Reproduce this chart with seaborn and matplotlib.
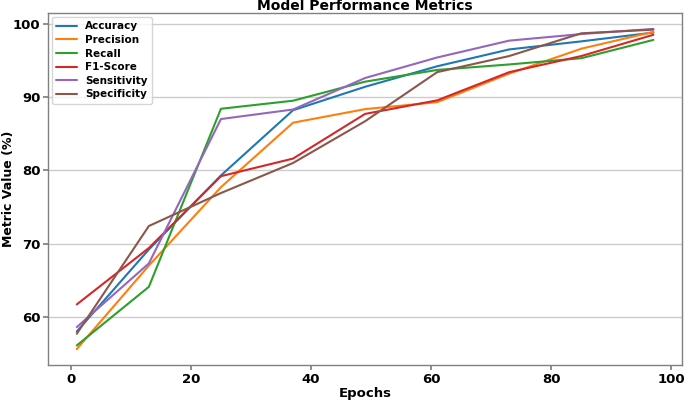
import matplotlib
matplotlib.use("Agg")
import matplotlib.pyplot as plt
import seaborn as sns
import pandas as pd

epochs = [1, 13, 25, 37, 49, 61, 73, 85, 97]
accuracy = [58.0, 69.2, 79.3, 88.2, 91.4, 94.2, 96.5, 97.6, 98.8]
precision = [55.6, 67.0, 77.7, 86.5, 88.35, 89.3, 93.2, 96.6, 98.9]
recall = [56.1, 64.1, 88.4, 89.5, 92.1, 93.7, 94.45, 95.3, 97.8]
f1_score = [61.7, 69.4, 79.2, 81.6, 87.7, 89.55, 93.4, 95.6, 98.5]
sensitivity = [58.6, 67.3, 87.0, 88.3, 92.6, 95.4, 97.7, 98.6, 99.3]
specificity = [57.7, 72.4, 76.9, 81.0, 86.7, 93.4, 95.6, 98.7, 99.2]

metrics = {
    "Accuracy": accuracy,
    "Precision": precision,
    "Recall": recall,
    "F1-Score": f1_score,
    "Sensitivity": sensitivity,
    "Specificity": specificity,
}

rows = []
for name, vals in metrics.items():
    for e, v in zip(epochs, vals):
        rows.append({"Epochs": e, "Value": v, "Metric": name})
df = pd.DataFrame(rows)

sns.set_theme(style="ticks")
plt.rcParams["font.family"] = ["DejaVu Sans"]
plt.rcParams["text.color"] = "black"
plt.rcParams["axes.labelcolor"] = "black"
plt.rcParams["xtick.color"] = "black"
plt.rcParams["ytick.color"] = "black"

fig = plt.figure(figsize=(6.85, 4.03), dpi=100)
ax = fig.add_axes([0.070, 0.094, 0.926, 0.874])

sns.lineplot(data=df, x="Epochs", y="Value", hue="Metric", palette="tab10",
             linewidth=1.5, ax=ax)

ax.yaxis.grid(True, color="#cccccc", linewidth=1.0)
ax.set_axisbelow(True)
for s in ax.spines.values():
    s.set_color("#808080")
    s.set_linewidth(1.0)

ax.set_title("Model Performance Metrics", fontsize=10, fontweight="bold", pad=2)
ax.set_xlabel("Epochs", fontsize=9.5, fontweight="bold", labelpad=1)
ax.set_ylabel("Metric Value (%)", fontsize=9, fontweight="bold")
ax.yaxis.set_label_coords(-0.052, 0.5)
ax.set_xticks([0, 20, 40, 60, 80, 100])
ax.set_yticks([60, 70, 80, 90, 100])
ax.tick_params(axis="both", labelsize=9.5, length=3.5, pad=2)
ax.tick_params(axis="both", color="#808080")
for lbl in ax.get_xticklabels() + ax.get_yticklabels():
    lbl.set_fontweight("bold")

leg = ax.legend(loc="upper left", prop={"weight": "bold", "size": 7.5},
                frameon=True, borderaxespad=0.4, handlelength=2.0,
                labelspacing=0.35)
leg.get_frame().set_edgecolor("#cccccc")

fig.savefig("out.png", dpi=100)
